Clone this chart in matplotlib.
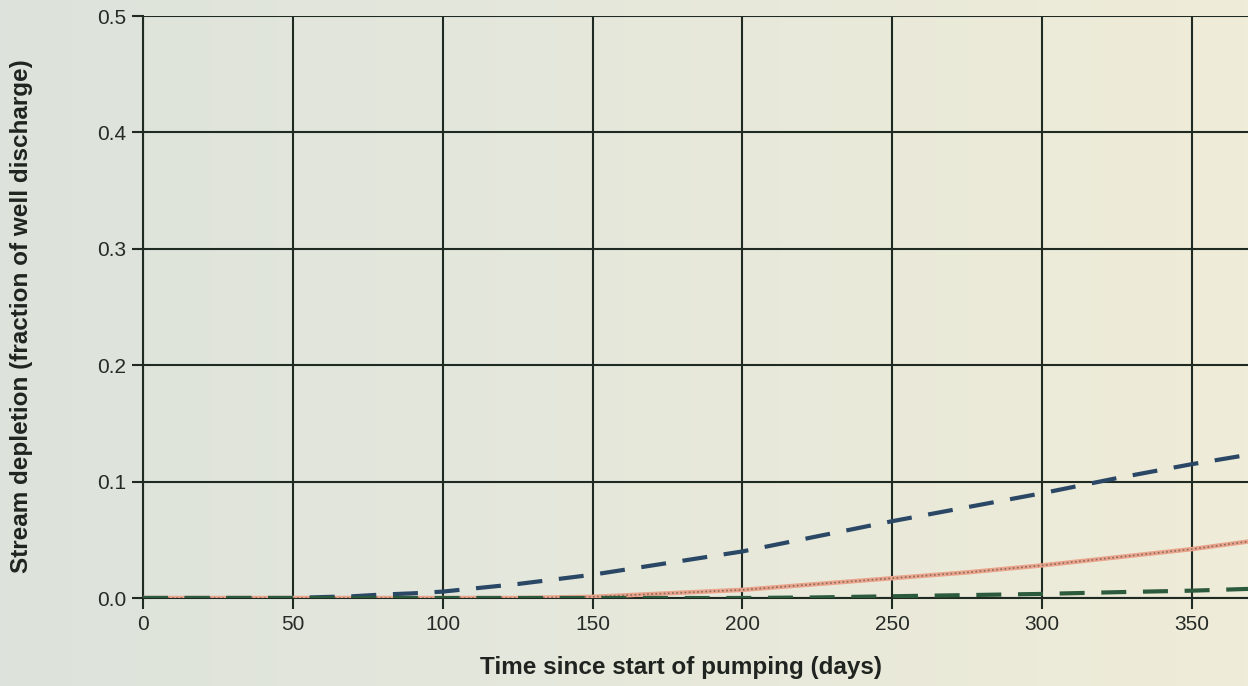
import matplotlib
matplotlib.use('Agg')
import matplotlib.pyplot as plt
import numpy as np
from matplotlib.colors import LinearSegmentedColormap

plt.rcParams['font.family'] = ['Liberation Sans', 'DejaVu Sans']

# days since start of pumping
days = [0, 25, 50, 60, 70, 80, 90, 100, 125, 150, 175, 200, 225, 250, 275, 300, 325, 350, 368.7]
# stream depletion as fraction of well discharge
depletion_blue = [0, 0, 0, 0.0008, 0.0015, 0.003, 0.004, 0.0055, 0.012, 0.020, 0.030, 0.040,
                  0.053, 0.066, 0.078, 0.090, 0.103, 0.115, 0.123]
depletion_orange = [0, 0, 0, 0, 0, 0, 0, 0, 0, 0.001, 0.004, 0.007,
                    0.012, 0.017, 0.022, 0.028, 0.035, 0.042, 0.0485]
depletion_green = [0, 0, 0, 0, 0, 0, 0, 0, 0, 0, 0, 0,
                   0.0005, 0.0015, 0.0025, 0.0035, 0.005, 0.0063, 0.0078]

x_ticks = [0, 50, 100, 150, 200, 250, 300, 350]
y_ticks = [0.0, 0.1, 0.2, 0.3, 0.4, 0.5]

fig = plt.figure(figsize=(12.48, 6.86), dpi=100)

# paper-like background (scanned page, greenish grey to cream)
bg = fig.add_axes([0, 0, 1, 1], zorder=-10)
cmap = LinearSegmentedColormap.from_list('paper', ['#dde3dc', '#e6e8db', '#efecd8'])
bg.imshow(np.linspace(0, 1, 256).reshape(1, -1), cmap=cmap, aspect='auto', extent=[0, 1, 0, 1])
bg.axis('off')

ax = fig.add_axes([143 / 1248, 88 / 686, 1 - 143 / 1248, 582 / 686])
ax.patch.set_alpha(0)

ax.plot(days, depletion_blue, color='#2a4766', lw=3, dashes=(6, 4), zorder=4)
ax.plot(days, depletion_orange, color='#eaa48c', lw=3.2, zorder=3)
ax.plot(days, depletion_orange, color='#8a6a5c', lw=1.2, ls=(0, (1, 1.5)), zorder=3.5)
ax.plot(days, depletion_green, color='#2c5a3c', lw=3, dashes=(6, 4), zorder=4)

ax.set_xlim(0, 368.7)
ax.set_ylim(0, 0.5)
ax.set_xticks(x_ticks)
ax.set_yticks(y_ticks)
ax.set_yticklabels([f'{v:.1f}' for v in y_ticks])
ax.grid(True, color='#1f2a22', lw=1.5)
ax.set_axisbelow(True)

for side in ['top', 'right']:
    ax.spines[side].set_visible(False)
for side in ['left', 'bottom']:
    ax.spines[side].set_color('#1f2a22')
    ax.spines[side].set_linewidth(1.5)

ax.tick_params(axis='both', direction='out', length=8, width=1.5, color='#1f2a22',
               labelsize=15, labelcolor='#262b28')
ax.tick_params(axis='y', pad=4)
ax.tick_params(axis='x', pad=4)

ax.set_xlabel('Time since start of pumping (days)', fontsize=17.5, fontweight='bold',
              color='#1f2420')
ax.set_ylabel('Stream depletion (fraction of well discharge)', fontsize=17.5, fontweight='bold',
              color='#1f2420')
ax.xaxis.set_label_coords((681 - 143) / (1248 - 143), -(656 - 598) / 582)
ax.yaxis.set_label_coords(-(143 - 33) / (1248 - 143), (598 - 316) / 582)

fig.savefig('out.png', dpi=100)
